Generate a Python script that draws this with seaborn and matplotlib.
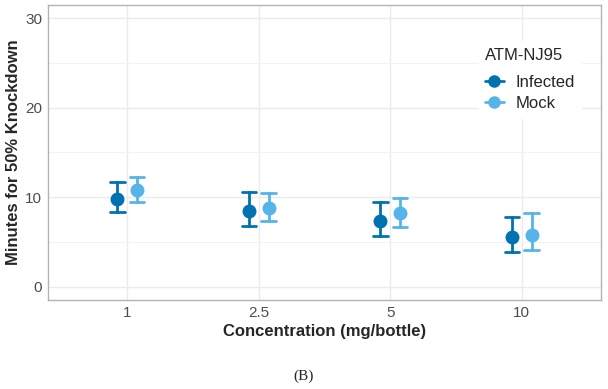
import pandas as pd
import numpy as np
import matplotlib
matplotlib.use("Agg")
import matplotlib.pyplot as plt
from matplotlib.lines import Line2D
import seaborn as sns

# --- data (estimate, lower, upper) ---
concentrations = ["1", "2.5", "5", "10"]
groups = ["Infected", "Mock"]
infected_mid = [9.8, 8.5, 7.3, 5.5]
infected_low = [8.3, 6.8, 5.6, 3.9]
infected_high = [11.7, 10.6, 9.4, 7.8]
mock_mid = [10.8, 8.8, 8.2, 5.8]
mock_low = [9.4, 7.3, 6.7, 4.1]
mock_high = [12.3, 10.5, 9.9, 8.2]
colors = ["#0072B2", "#56B4E9"]

# long table: three rows per point so median = estimate, min/max = interval
rows = []
for grp, mids, lows, highs in [("Infected", infected_mid, infected_low, infected_high),
                               ("Mock", mock_mid, mock_low, mock_high)]:
    for conc, m, lo, hi in zip(concentrations, mids, lows, highs):
        for v in (lo, m, hi):
            rows.append({"conc": conc, "group": grp, "minutes": v})
df = pd.DataFrame(rows)

sns.set_theme(style="whitegrid")
plt.rcParams["font.family"] = ["Liberation Sans", "DejaVu Sans"]

fig = plt.figure(figsize=(6.08, 3.89), dpi=100)
ax = fig.add_axes([0.0794, 0.2288, 0.9086, 0.759])

sns.pointplot(data=df, x="conc", y="minutes", hue="group", order=concentrations,
              hue_order=groups, palette=colors, estimator="median",
              errorbar=lambda v: (v.min(), v.max()), dodge=0.15, capsize=0.11,
              linestyle="none", markers="o", markersize=8,
              err_kws={"linewidth": 2.0}, ax=ax, legend=False)

ax.set_xlim(-0.6, 3.6)
ax.set_ylim(-1.5, 31.5)
ax.set_yticks([0, 10, 20, 30])
ax.set_yticks([5, 15, 25], minor=True)
ax.grid(True, which="major", color="#ebebeb", linewidth=1.0)
ax.grid(True, which="minor", axis="y", color="#f3f3f3", linewidth=0.8)
ax.set_axisbelow(True)
for s in ax.spines.values():
    s.set_color("#b3b3b3")
    s.set_linewidth(1.0)
ax.tick_params(axis="both", which="major", labelsize=11, labelcolor="#4d4d4d",
               length=2.5, width=0.8, color="#b3b3b3", pad=2)
ax.tick_params(axis="both", which="minor", length=0)

ax.set_xlabel("Concentration (mg/bottle)", fontsize=12, fontweight="bold", labelpad=3)
ax.set_ylabel("Minutes for 50% Knockdown", fontsize=12, fontweight="bold", labelpad=3)

handles = [Line2D([], [], color=c, marker="o", linewidth=2, markersize=8) for c in colors]
leg = ax.legend(handles, groups, title="ATM-NJ95", loc="upper left",
                bbox_to_anchor=(0.764, 0.905), frameon=True, fontsize=12,
                title_fontsize=12, handlelength=1.1, handletextpad=0.7,
                labelspacing=0.35, borderpad=0.4)
leg.get_frame().set_edgecolor("white")
leg.get_frame().set_facecolor("white")
leg.get_frame().set_alpha(1)
leg.get_frame().set_boxstyle("square", pad=0)
leg._legend_box.align = "left"
leg._legend_box.sep = 9

fig.text(0.5, 0.033, "(B)", ha="center", va="center", fontsize=11,
         family="Liberation Serif")

fig.savefig("out.png", dpi=100)
